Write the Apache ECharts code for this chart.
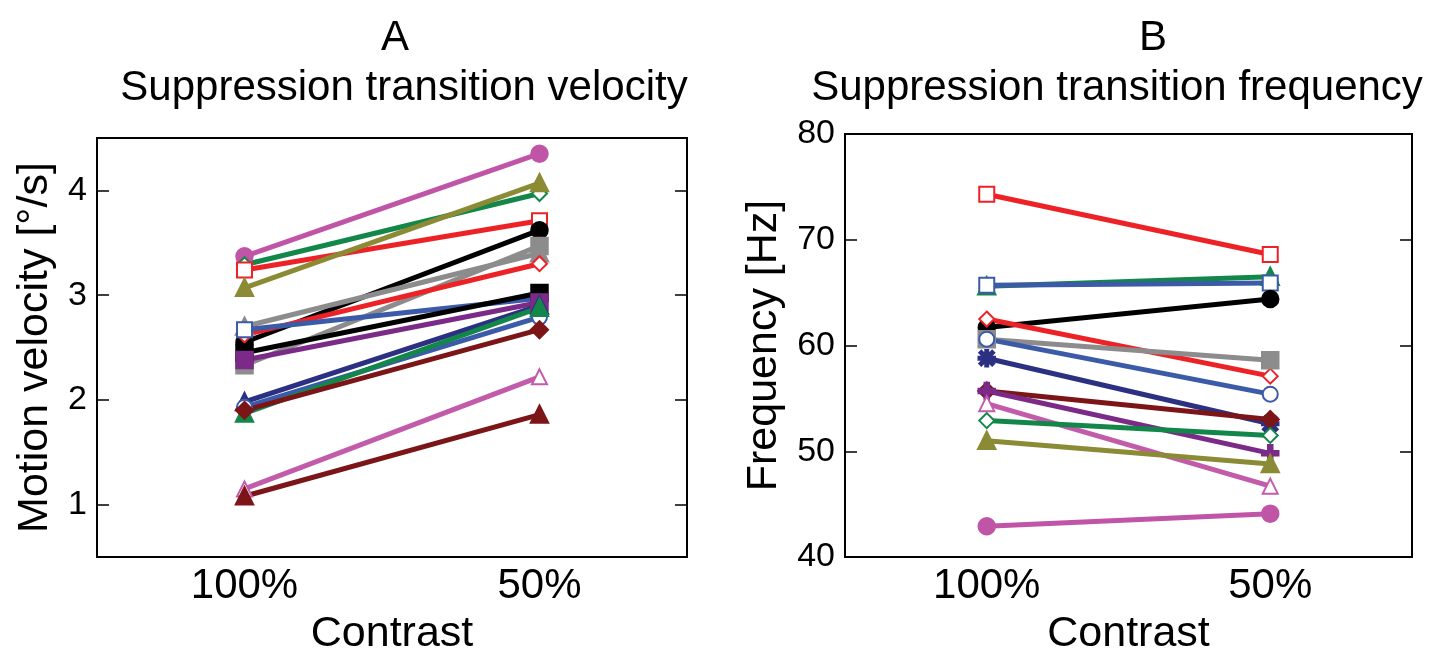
<!DOCTYPE html>
<html>
<head>
<meta charset="utf-8">
<script src="https://cdn.jsdelivr.net/npm/echarts@6/dist/echarts.min.js"></script>
<style>
  html, body { margin: 0; padding: 0; background: #fff; }
  #chart { width: 1445px; height: 651px; }
</style>
</head>
<body>
<div id="chart"></div>
<script>
var contrast = ['100%', '50%'];

// panel A: motion velocity [deg/s], 100% contrast then 50% contrast
var velTicks = [1, 2, 3, 4];
var velHigh = [3.37, 3.29, 3.24, 3.07, 2.55, 2.70, 2.33, 2.62, 2.67, 2.45, 2.38, 1.98, 1.93, 1.87, 1.90, 1.15, 1.08];
var velLow  = [4.35, 3.97, 3.71, 4.07, 3.62, 3.40, 3.47, 3.30, 2.97, 3.02, 2.93, 2.90, 2.79, 2.88, 2.67, 2.22, 1.86];
var velColors  = ['#c055a7', '#13874a', '#ec2227', '#8b8b35', '#000000', '#8c8c8c', '#8c8c8c', '#ec2227', '#3b5aa8',
                  '#000000', '#7b2b87', '#2c3082', '#3b5aa8', '#13874a', '#7c1517', '#c35bab', '#7c1517'];
var velSymbols = ['circle', 'emptyDiamond', 'emptyRect', 'triangle', 'circle', 'triangle', 'rect', 'emptyDiamond', 'emptyRect',
                  'rect', 'rect', 'triangle', 'emptyCircle', 'triangle', 'diamond', 'emptyTriangle', 'triangle'];

// panel B: frequency [Hz]
var freqTicks = [40, 50, 60, 70, 80];
var freqHigh = [74.3, 65.6, 65.7, 61.7, 62.5, 60.6, 60.6, 58.8, 55.7, 55.7, 54.5, 52.9, 51.0, 42.9];
var freqLow  = [68.6, 66.5, 65.9, 64.4, 57.1, 58.6, 55.4, 52.6, 53.0, 49.8, 46.7, 51.5, 48.8, 44.1];
var freqColors = ['#ec2227', '#13874a', '#3b5aa8', '#000000', '#ec2227', '#8c8c8c', '#3b5aa8', '#2c3082',
                  '#7c1517', '#7b2b87', '#c35bab', '#13874a', '#8b8b35', '#c055a7'];
var PLUS = 'path://M4,0H6V4H10V6H6V10H4V6H0V4H4Z';
var STAR = 'path://M4.5,0h1v10h-1z M0,4.5h10v1h-10z M1.4,0.7L9.3,8.6L8.6,9.3L0.7,1.4z M8.6,0.7L9.3,1.4L1.4,9.3L0.7,8.6z';
var freqSymbols = ['emptyRect', 'triangle', 'emptyRect', 'circle', 'emptyDiamond', 'rect', 'emptyCircle', STAR,
                   'diamond', PLUS, 'emptyTriangle', 'emptyDiamond', 'triangle', 'circle'];

var font = 'Liberation Sans';

function makeSeries(high, low, colors, symbols, idx) {
    return high.map(function(v, i) {
        return {
            type: 'line',
            xAxisIndex: idx,
            yAxisIndex: idx * 2,
            data: [v, low[i]],
            symbol: symbols[i],
            symbolSize: 15,
            lineStyle: { color: colors[i], width: 5 },
            itemStyle: { color: colors[i], borderColor: colors[i], borderWidth: 3.5 },
            animation: false
        };
    });
}

function yPair(min, max, ticks, name, gridIndex, gap) {
    var common = {
        type: 'value',
        gridIndex: gridIndex,
        min: min,
        max: max,
        splitLine: { show: false },
        axisLine: { show: true, lineStyle: { color: '#000', width: 2 } },
        axisTick: { show: true, inside: true, length: 12, customValues: ticks, lineStyle: { color: '#000', width: 1.5 } }
    };
    var left = Object.assign({}, common, {
        position: 'left',
        name: name,
        nameLocation: 'middle',
        nameGap: gap,
        nameTextStyle: { fontFamily: font, fontSize: 43, color: '#000' },
        axisLabel: { fontFamily: font, fontSize: 34, color: '#000', margin: 10, customValues: ticks }
    });
    var right = Object.assign({}, common, {
        position: 'right',
        axisLabel: { show: false }
    });
    return [left, right];
}

function xAxisFor(gridIndex) {
    return {
        type: 'category',
        gridIndex: gridIndex,
        data: contrast,
        boundaryGap: true,
        name: 'Contrast',
        nameLocation: 'middle',
        nameGap: 56,
        nameTextStyle: { fontFamily: font, fontSize: 43, color: '#000' },
        axisLine: { show: true, lineStyle: { color: '#000', width: 2 } },
        axisTick: { show: false },
        axisLabel: { fontFamily: font, fontSize: 42, color: '#000', margin: 8 }
    };
}

var titleStyle = { fontFamily: font, fontSize: 42, fontWeight: 'normal', color: '#000' };

var myChart = echarts.init(document.getElementById('chart'));

var option = {
    backgroundColor: '#fff',
    title: [
        { text: 'A', left: 390, top: 12, textAlign: 'center', textStyle: titleStyle },
        { text: 'Suppression transition velocity', left: 399, top: 62, textAlign: 'center', textStyle: titleStyle },
        { text: 'B', left: 1148, top: 12, textAlign: 'center', textStyle: titleStyle },
        { text: 'Suppression transition frequency', left: 1112, top: 62, textAlign: 'center', textStyle: titleStyle }
    ],
    grid: [
        { left: 97, top: 138, width: 590, height: 419, outerBoundsMode: 'none', show: true, borderColor: '#000', borderWidth: 2 },
        { left: 845, top: 134, width: 567, height: 423, outerBoundsMode: 'none', show: true, borderColor: '#000', borderWidth: 2 }
    ],
    xAxis: [xAxisFor(0), xAxisFor(1)],
    yAxis: yPair(0.5, 4.5, velTicks, 'Motion velocity [°/s]', 0, 40)
        .concat(yPair(40, 80, freqTicks, 'Frequency [Hz]', 1, 59)),
    series: makeSeries(velHigh, velLow, velColors, velSymbols, 0)
        .concat(makeSeries(freqHigh, freqLow, freqColors, freqSymbols, 1))
};

option && myChart.setOption(option);
</script>
</body>
</html>
